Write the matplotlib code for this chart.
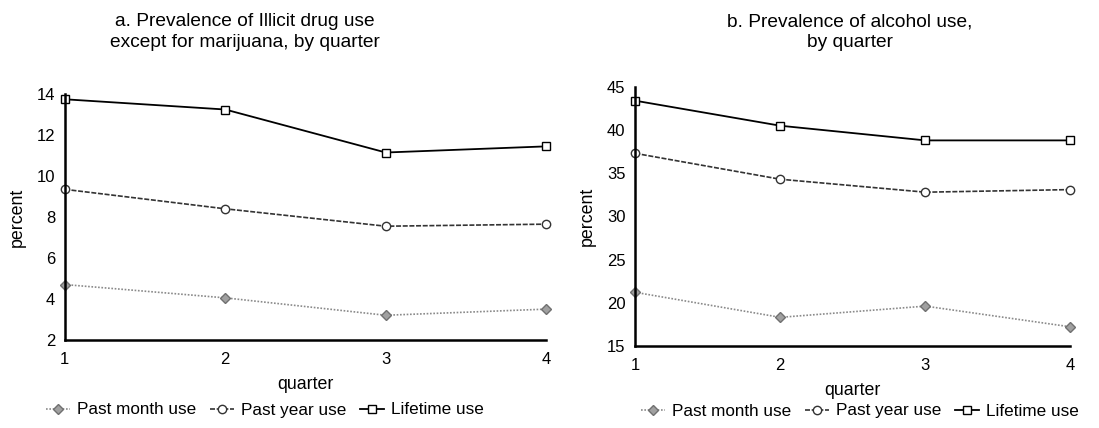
import numpy as np
import matplotlib.pyplot as plt

plt.rcParams['font.family'] = ['Liberation Sans', 'DejaVu Sans']

quarters = [1, 2, 3, 4]

# a. illicit drugs except marijuana
drug_month = [4.7, 4.05, 3.2, 3.5]
drug_year = [9.35, 8.4, 7.55, 7.65]
drug_life = [13.75, 13.25, 11.15, 11.45]

# b. alcohol
alc_month = [21.2, 18.3, 19.6, 17.2]
alc_year = [37.3, 34.3, 32.8, 33.1]
alc_life = [43.4, 40.5, 38.8, 38.8]

labels = ['Past month use', 'Past year use', 'Lifetime use']

fig = plt.figure(figsize=(10.99, 4.28), dpi=100)
ax1 = fig.add_axes([0.059, 0.206, 0.438, 0.574])
ax2 = fig.add_axes([0.578, 0.192, 0.396, 0.605])


def draw(ax, month, year, life, ylim, yticks):
    ax.plot(quarters, month, color='#8a8a8a', lw=1.2, ls=(0, (1, 1)),
            marker='D', ms=5, mfc='#a0a0a0', mec='#707070', clip_on=False, label=labels[0])
    ax.plot(quarters, year, color='#333333', lw=1.2, ls=(0, (3, 1)),
            marker='o', ms=6, mfc='white', mec='#333333', clip_on=False, label=labels[1])
    ax.plot(quarters, life, color='black', lw=1.3, ls='-',
            marker='s', ms=6, mfc='white', mec='black', clip_on=False, label=labels[2])
    ax.set_xlim(1, 4)
    ax.set_ylim(*ylim)
    ax.set_xticks(quarters)
    ax.set_yticks(yticks)
    for s in ['top', 'right']:
        ax.spines[s].set_visible(False)
    for s in ['left', 'bottom']:
        ax.spines[s].set_linewidth(1.8)
    ax.tick_params(axis='both', labelsize=12, length=0)
    ax.tick_params(axis='x', pad=9)
    ax.tick_params(axis='y', pad=7)
    ax.set_xlabel('quarter', fontsize=12.8, labelpad=6)
    ax.set_ylabel('percent', fontsize=12.8, labelpad=8)


draw(ax1, drug_month, drug_year, drug_life, (2, 14), np.arange(2, 15, 2))
draw(ax2, alc_month, alc_year, alc_life, (15, 45), np.arange(15, 46, 5))

fig.text(245 / 1099, 1 - 32 / 428, 'a. Prevalence of Illicit drug use\nexcept for marijuana, by quarter',
         ha='center', va='center', fontsize=13.8, linespacing=1.25)
fig.text(850 / 1099, 1 - 32 / 428, 'b. Prevalence of alcohol use,\nby quarter',
         ha='center', va='center', fontsize=13.8, linespacing=1.25)

handles, _ = ax1.get_legend_handles_labels()
fig.legend(handles, labels, loc='center', bbox_to_anchor=(265 / 1099, 1 - 410 / 428), ncol=3,
           frameon=False, fontsize=12.3, handlelength=1.4, columnspacing=0.8, handletextpad=0.4,
           borderpad=0)
handles, _ = ax2.get_legend_handles_labels()
fig.legend(handles, labels, loc='center', bbox_to_anchor=(860 / 1099, 1 - 411 / 428), ncol=3,
           frameon=False, fontsize=12.3, handlelength=1.4, columnspacing=0.8, handletextpad=0.4,
           borderpad=0)

fig.savefig('out.png', dpi=100)
